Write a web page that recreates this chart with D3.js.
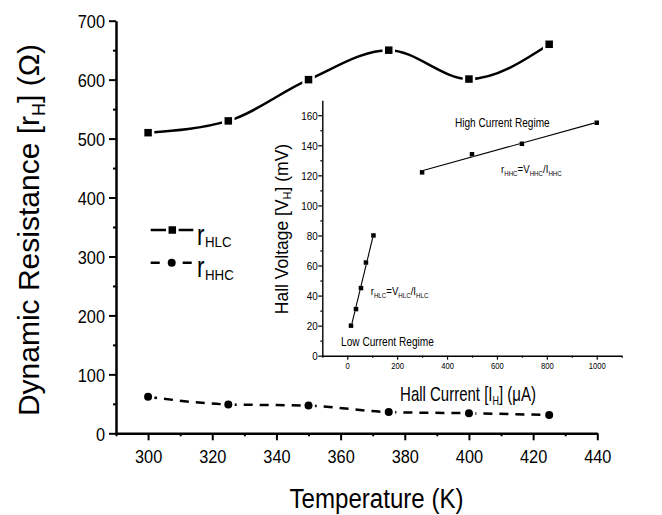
<!DOCTYPE html>
<html>
<head>
<meta charset="utf-8">
<script src="https://cdn.jsdelivr.net/npm/d3@7"></script>
<style>
	body { margin: 0; background: #fff; }
	svg { display: block; font-family: "Liberation Sans", Arial, sans-serif; }
	.ax path, .ax line { stroke: #000; }
</style>
</head>
<body>
<div id="chart"></div>
<script>
// main plot data
const temps = [300, 325, 350, 375, 400, 425];
const rHLC = [510, 530, 600, 650, 601, 660];
const rHHC = [62, 49, 47, 36, 34, 31];
const tempTicks = [300, 320, 340, 360, 380, 400, 420, 440];
const resTicks = [0, 100, 200, 300, 400, 500, 600, 700];

// inset data
const lowI = [15, 35, 55, 75, 105];
const lowV = [20, 31, 45, 62, 80];
const highI = [300, 500, 700, 1000];
const highV = [122, 134, 141, 155];
const currTicks = [0, 200, 400, 600, 800, 1000];
const voltTicks = [0, 20, 40, 60, 80, 100, 120, 140, 160];

const width = 662, height = 515;

const svg = d3.select('#chart').append('svg')
	.attr('width', width)
	.attr('height', height);

// text with sub parts, squeezed horizontally by sx
function richText(g, o) {
	const t = g.append('text')
		.attr('transform', `translate(${o.x},${o.y}) rotate(${o.rotate || 0}) scale(${o.sx || 1},1)`)
		.attr('text-anchor', o.anchor || 'start')
		.attr('font-size', o.size)
		.attr('fill', '#000');
	let down = false;
	o.parts.forEach(p => {
		const s = t.append('tspan').text(p.t);
		if (p.sub && !down) { s.attr('font-size', o.subSize).attr('dy', o.subDy); down = true; }
		else if (!p.sub && down) { s.attr('dy', -o.subDy); down = false; }
	});
	return t;
}

// ---- main plot ----
const x = d3.scaleLinear().domain([290, 440]).range([116, 597.3]);
const y = d3.scaleLinear().domain([0, 700]).range([433.3, 20.7]);

const xAxis = svg.append('g').attr('class', 'ax').attr('transform', `translate(0,${y(0)})`);
xAxis.call(d3.axisBottom(x).tickValues(d3.range(290, 441, 10)).tickSize(3).tickSizeOuter(0).tickFormat(''));
xAxis.call(g => g.selectAll('.tick').filter(d => tempTicks.includes(d)).select('line').attr('y2', 7));
xAxis.selectAll('path').attr('stroke-width', 2.5);
xAxis.selectAll('line').attr('stroke-width', 2);
xAxis.selectAll('.tick').filter(d => tempTicks.includes(d)).append('text')
	.attr('y', 29.4).attr('text-anchor', 'middle').attr('fill', '#000')
	.attr('font-size', 19).attr('transform', 'scale(0.86,1)')
	.text(d => d);

const yAxis = svg.append('g').attr('class', 'ax').attr('transform', `translate(${x(290)},0)`);
yAxis.call(d3.axisLeft(y).tickValues(d3.range(0, 701, 50)).tickSize(3).tickSizeOuter(0).tickFormat(''));
yAxis.call(g => g.selectAll('.tick').filter(d => resTicks.includes(d)).select('line').attr('x2', -7));
yAxis.selectAll('path').attr('stroke-width', 2.5);
yAxis.selectAll('line').attr('stroke-width', 2);
yAxis.selectAll('.tick').filter(d => resTicks.includes(d)).append('text')
	.attr('x', -11 / 0.86).attr('y', 6.7).attr('text-anchor', 'end').attr('fill', '#000')
	.attr('font-size', 19).attr('transform', 'scale(0.86,1)')
	.text(d => d);

richText(svg, { x: 376.5, y: 508, size: 28, sx: 0.86, anchor: 'middle', parts: [{ t: 'Temperature (K)' }] });
richText(svg, {
	x: 39, y: 230, size: 30, sx: 1, rotate: -90, anchor: 'middle', subSize: 18, subDy: 6,
	parts: [{ t: 'Dynamic Resistance [r' }, { t: 'H', sub: true }, { t: '] (\u03A9)' }]
});

const lineHLC = d3.line().x(d => x(d[0])).y(d => y(d[1])).curve(d3.curveMonotoneX);
const hlcPts = temps.map((t, i) => [t, rHLC[i]]);
const hhcPts = temps.map((t, i) => [t, rHHC[i]]);

svg.append('path').datum(hlcPts).attr('d', lineHLC)
	.attr('fill', 'none').attr('stroke', '#000').attr('stroke-width', 2.5);
svg.append('path').datum(hhcPts).attr('d', lineHLC)
	.attr('fill', 'none').attr('stroke', '#000').attr('stroke-width', 2.5).attr('stroke-dasharray', '9,7');

function squares(g, pts, sx, sy, s, pad) {
	g.selectAll(null).data(pts).enter().append('rect')
		.attr('x', d => sx(d[0]) - s / 2 - pad).attr('y', d => sy(d[1]) - s / 2 - pad)
		.attr('width', s + 2 * pad).attr('height', s + 2 * pad).attr('fill', '#fff');
	g.selectAll(null).data(pts).enter().append('rect')
		.attr('x', d => sx(d[0]) - s / 2).attr('y', d => sy(d[1]) - s / 2)
		.attr('width', s).attr('height', s).attr('fill', '#000');
}
function circles(g, pts, sx, sy, r, pad) {
	g.selectAll(null).data(pts).enter().append('circle')
		.attr('cx', d => sx(d[0])).attr('cy', d => sy(d[1])).attr('r', r + pad).attr('fill', '#fff');
	g.selectAll(null).data(pts).enter().append('circle')
		.attr('cx', d => sx(d[0])).attr('cy', d => sy(d[1])).attr('r', r).attr('fill', '#000');
}
squares(svg, hlcPts, x, y, 7.5, 2.5);
circles(svg, hhcPts, x, y, 4, 2.5);

// legend
const leg = svg.append('g');
leg.append('line').attr('x1', 150.7).attr('x2', 193.3).attr('y1', 230).attr('y2', 230)
	.attr('stroke', '#000').attr('stroke-width', 2.5);
leg.append('line').attr('x1', 150.7).attr('x2', 193.3).attr('y1', 262.7).attr('y2', 262.7)
	.attr('stroke', '#000').attr('stroke-width', 2.5).attr('stroke-dasharray', '9,7');
leg.append('rect').attr('x', 172.3 - 6.3).attr('y', 230 - 6.3).attr('width', 12.6).attr('height', 12.6).attr('fill', '#fff');
leg.append('rect').attr('x', 172.3 - 3.75).attr('y', 230 - 3.75).attr('width', 7.5).attr('height', 7.5).attr('fill', '#000');
leg.append('circle').attr('cx', 171.7).attr('cy', 262.7).attr('r', 6.5).attr('fill', '#fff');
leg.append('circle').attr('cx', 171.7).attr('cy', 262.7).attr('r', 4).attr('fill', '#000');
richText(leg, { x: 197, y: 245, size: 30, sx: 0.75, parts: [{ t: 'r' }] });
richText(leg, { x: 205, y: 247, size: 14, sx: 0.95, parts: [{ t: 'HLC' }] });
richText(leg, { x: 197, y: 277, size: 30, sx: 0.75, parts: [{ t: 'r' }] });
richText(leg, { x: 205, y: 280, size: 14, sx: 0.95, parts: [{ t: 'HHC' }] });

// ---- inset ----
const ix = d3.scaleLinear().domain([-100, 1100]).range([322.3, 621.7]);
const iy = d3.scaleLinear().domain([0, 170]).range([355.7, 100.2]);
const inset = svg.append('g');

const ixAxis = inset.append('g').attr('class', 'ax').attr('transform', `translate(0,${iy(0)})`);
ixAxis.call(d3.axisBottom(ix).tickValues(d3.range(-100, 1101, 100)).tickSize(2).tickSizeOuter(0).tickFormat(''));
ixAxis.call(g => g.selectAll('.tick').filter(d => currTicks.includes(d)).select('line').attr('y2', 4));
ixAxis.selectAll('path').attr('stroke-width', 1.4);
ixAxis.selectAll('line').attr('stroke-width', 1.2);
ixAxis.selectAll('.tick').filter(d => currTicks.includes(d)).append('text')
	.attr('y', 13.6).attr('text-anchor', 'middle').attr('fill', '#000')
	.attr('font-size', 8.5).attr('transform', 'scale(0.9,1)')
	.text(d => d);

const iyAxis = inset.append('g').attr('class', 'ax').attr('transform', `translate(${ix(-100)},0)`);
iyAxis.call(d3.axisLeft(iy).tickValues(d3.range(0, 161, 10)).tickSize(2).tickSizeOuter(0).tickFormat(''));
iyAxis.call(g => g.selectAll('.tick').filter(d => voltTicks.includes(d)).select('line').attr('x2', -4));
iyAxis.selectAll('path').attr('stroke-width', 1.4);
iyAxis.selectAll('line').attr('stroke-width', 1.2);
iyAxis.selectAll('.tick').filter(d => voltTicks.includes(d)).append('text')
	.attr('x', -4.5 / 0.86).attr('y', 4.2).attr('text-anchor', 'end').attr('fill', '#000')
	.attr('font-size', 11.5).attr('transform', 'scale(0.86,1)')
	.text(d => d);

richText(inset, {
	x: 468, y: 401, size: 20, sx: 0.75, anchor: 'middle', subSize: 12, subDy: 4,
	parts: [{ t: 'Hall Current [I' }, { t: 'H', sub: true }, { t: '] (\u03BCA)' }]
});
richText(inset, {
	x: 288, y: 229, size: 17.5, sx: 1, rotate: -90, anchor: 'middle', subSize: 11, subDy: 3,
	parts: [{ t: 'Hall Voltage [V' }, { t: 'H', sub: true }, { t: '] (mV)' }]
});

// least squares fit line through each regime
function fitLine(xs, ys) {
	const mx = d3.mean(xs), my = d3.mean(ys);
	const b = d3.sum(xs, (v, i) => (v - mx) * (ys[i] - my)) / d3.sum(xs, v => (v - mx) * (v - mx));
	const a = my - b * mx;
	const ext = d3.extent(xs);
	return ext.map(v => [v, a + b * v]);
}
const iLine = d3.line().x(d => ix(d[0])).y(d => iy(d[1]));
const lowPts = lowI.map((v, i) => [v, lowV[i]]);
const highPts = highI.map((v, i) => [v, highV[i]]);
inset.append('path').datum(fitLine(lowI, lowV)).attr('d', iLine)
	.attr('fill', 'none').attr('stroke', '#000').attr('stroke-width', 1.1);
inset.append('path').datum(fitLine(highI, highV)).attr('d', iLine)
	.attr('fill', 'none').attr('stroke', '#000').attr('stroke-width', 1.1);
squares(inset, lowPts, ix, iy, 4.5, 0);
squares(inset, highPts, ix, iy, 4.5, 0);

richText(inset, { x: 455, y: 127.3, size: 12, sx: 0.84, parts: [{ t: 'High Current Regime' }] });
richText(inset, { x: 341, y: 345.7, size: 12, sx: 0.845, parts: [{ t: 'Low Current Regime' }] });
richText(inset, {
	x: 501, y: 173.3, size: 11, sx: 0.88, subSize: 7, subDy: 3,
	parts: [{ t: 'r' }, { t: 'HHC', sub: true }, { t: '=V' }, { t: 'HHC', sub: true }, { t: '/I' }, { t: 'HHC', sub: true }]
});
richText(inset, {
	x: 370.7, y: 295, size: 11, sx: 0.88, subSize: 7, subDy: 3,
	parts: [{ t: 'r' }, { t: 'HLC', sub: true }, { t: '=V' }, { t: 'HLC', sub: true }, { t: '/I' }, { t: 'HLC', sub: true }]
});
</script>
</body>
</html>
